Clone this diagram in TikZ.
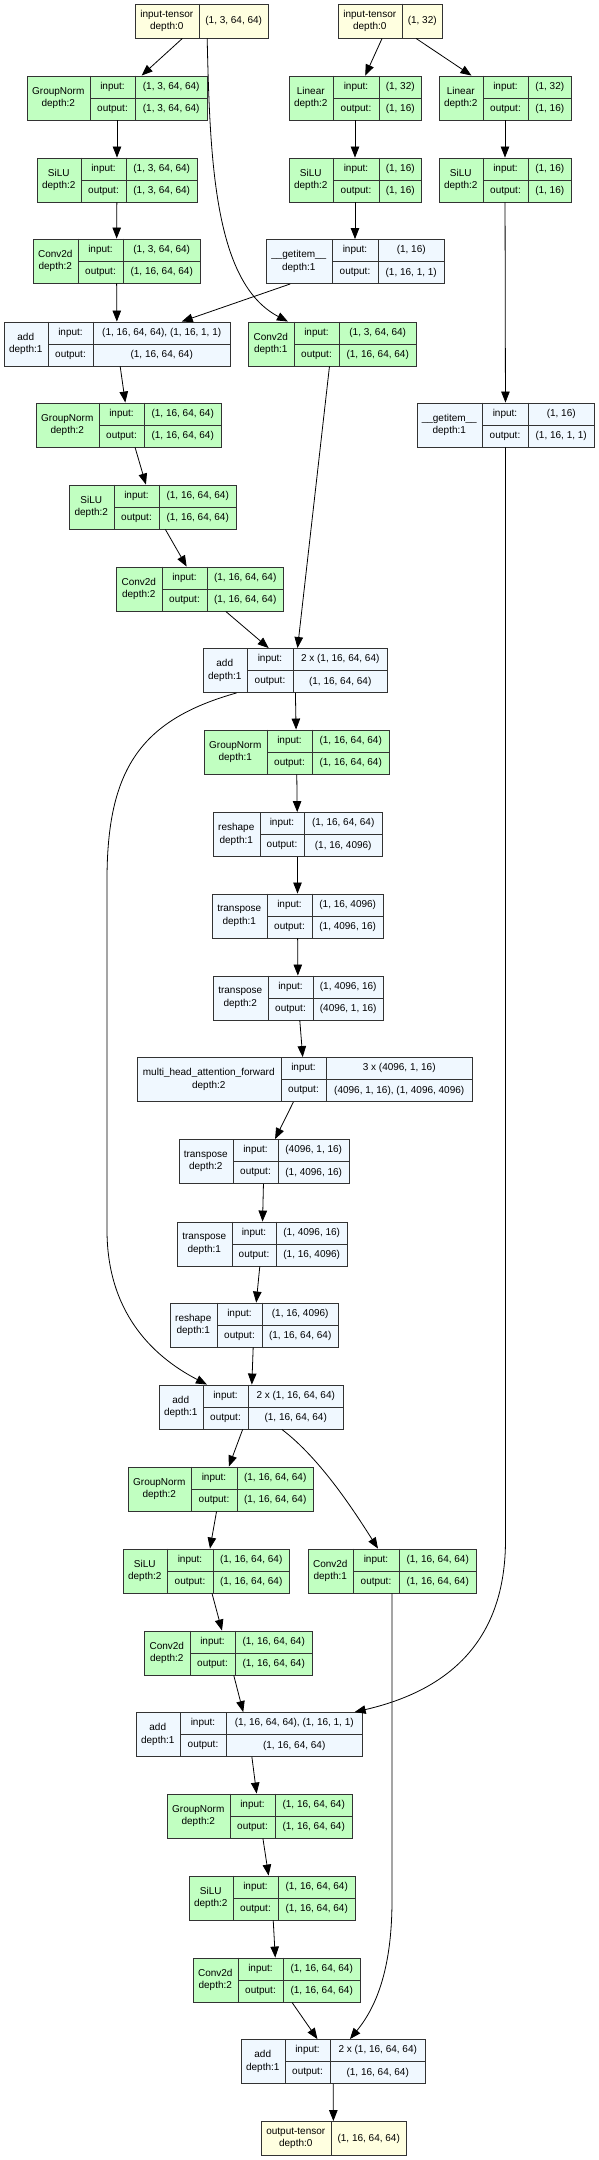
\documentclass[tikz,border=0pt]{standalone}
\usepackage{fontspec}
\setmainfont{Liberation Sans}
\usetikzlibrary{arrows.meta, calc}
\definecolor{layergreen}{HTML}{C1FFC1}
\definecolor{funcblue}{HTML}{F0F8FF}
\definecolor{tensoryellow}{HTML}{FFFFE0}
\definecolor{rulegray}{HTML}{333333}

\tikzset{
  netbox/.style={draw=rulegray, line width=0.9pt, inner sep=0pt, minimum height=44},
  module/.style={netbox, fill=layergreen},
  func/.style={netbox, fill=funcblue},
  tensor/.style={netbox, fill=tensoryellow, minimum height=34},
  cellrule/.style={draw=rulegray, line width=0.9pt},
  celltext/.style={font=\fontsize{10}{12.5}\selectfont, align=center, inner sep=0pt},
  edge/.style={-{Triangle[length=11pt, width=8.5pt]}, line width=0.8pt, black},
}

% cells of a layer: node, two split x, label, input, output
\newcommand{\netlayer}[6]{%
  \draw[cellrule] (#2,0 |- #1.north) -- (#2,0 |- #1.south)
                  (#3,0 |- #1.north) -- (#3,0 |- #1.south)
                  (#2,0 |- #1.center) -- (#1.east);
  \node[celltext] at ($(#1.west)!0.5!(#2,0 |- #1.west)$) {#4};
  \node[celltext] at ($(#2,0 |- #1.north)!0.5!(#3,0 |- #1.center)$) {input:};
  \node[celltext] at ($(#2,0 |- #1.south)!0.5!(#3,0 |- #1.center)$) {output:};
  \node[celltext] at ($(#3,0 |- #1.north)!0.5!(#1.east)$) {#5};
  \node[celltext] at ($(#3,0 |- #1.south)!0.5!(#1.east)$) {#6};
}
% cells of a tensor: node, split x, label, shape
\newcommand{\nettensor}[4]{%
  \draw[cellrule] (#2,0 |- #1.north) -- (#2,0 |- #1.south);
  \node[celltext] at ($(#1.west)!0.5!(#2,0 |- #1.west)$) {#3};
  \node[celltext] at ($(#2,0 |- #1.east)!0.5!(#1.east)$) {#4};
}

\begin{document}
\begin{tikzpicture}[x=1pt, y=-1pt]
  \useasboundingbox (0,0) rectangle (598,2160);

  % Inputs
  \node[tensor, minimum width=133] (in1) at (201.5,21) {};
  \nettensor{in1}{199}{input-tensor\\depth:0}{(1, 3, 64, 64)}
  \node[tensor, minimum width=104] (in2) at (390,21) {};
  \nettensor{in2}{402}{input-tensor\\depth:0}{(1, 32)}

  % First block
  \node[module, minimum width=180] (gn1) at (117,98) {};
  \netlayer{gn1}{90}{135}{GroupNorm\\depth:2}{(1, 3, 64, 64)}{(1, 3, 64, 64)}
  \node[module, minimum width=160] (silu1) at (117,180) {};
  \netlayer{silu1}{81}{126}{SiLU\\depth:2}{(1, 3, 64, 64)}{(1, 3, 64, 64)}
  \node[module, minimum width=167] (conv1) at (116.5,261) {};
  \netlayer{conv1}{78}{123}{Conv2d\\depth:2}{(1, 3, 64, 64)}{(1, 16, 64, 64)}

  % Embedding branches
  \node[module, minimum width=132] (lin1) at (355,98) {};
  \netlayer{lin1}{333}{379}{Linear\\depth:2}{(1, 32)}{(1, 16)}
  \node[module, minimum width=132] (lin2) at (505,98) {};
  \netlayer{lin2}{483}{528}{Linear\\depth:2}{(1, 32)}{(1, 16)}
  \node[module, minimum width=132] (siluA) at (355,180) {};
  \netlayer{siluA}{333}{379}{SiLU\\depth:2}{(1, 16)}{(1, 16)}
  \node[module, minimum width=132] (siluB) at (505,180) {};
  \netlayer{siluB}{483}{528}{SiLU\\depth:2}{(1, 16)}{(1, 16)}
  \node[func, minimum width=178] (getA) at (355,261.5) {};
  \netlayer{getA}{332}{378}{\_\_getitem\_\_\\depth:1}{(1, 16)}{(1, 16, 1, 1)}
  \node[func, minimum width=177] (getB) at (505.5,425) {};
  \netlayer{getB}{482}{528}{\_\_getitem\_\_\\depth:1}{(1, 16)}{(1, 16, 1, 1)}

  \node[func, minimum width=226] (add1) at (117,344) {};
  \netlayer{add1}{48}{93}{add\\depth:1}{(1, 16, 64, 64), (1, 16, 1, 1)}{(1, 16, 64, 64)}
  \node[module, minimum width=168] (convA) at (332,344) {};
  \netlayer{convA}{294}{339}{Conv2d\\depth:1}{(1, 3, 64, 64)}{(1, 16, 64, 64)}

  \node[module, minimum width=185] (gn2) at (128.5,425) {};
  \netlayer{gn2}{99}{144}{GroupNorm\\depth:2}{(1, 16, 64, 64)}{(1, 16, 64, 64)}
  \node[module, minimum width=167] (silu2) at (152.5,507) {};
  \netlayer{silu2}{114}{159}{SiLU\\depth:2}{(1, 16, 64, 64)}{(1, 16, 64, 64)}
  \node[module, minimum width=167] (conv2) at (199.5,589) {};
  \netlayer{conv2}{162}{207}{Conv2d\\depth:2}{(1, 16, 64, 64)}{(1, 16, 64, 64)}
  \node[func, minimum width=184] (add2) at (295,670.5) {};
  \netlayer{add2}{247}{293}{add\\depth:1}{2 x (1, 16, 64, 64)}{(1, 16, 64, 64)}

  % Attention
  \node[module, minimum width=185] (gn3) at (296.5,752) {};
  \netlayer{gn3}{267}{312}{GroupNorm\\depth:1}{(1, 16, 64, 64)}{(1, 16, 64, 64)}
  \node[func, minimum width=169] (resh1) at (297.5,834.5) {};
  \netlayer{resh1}{260}{304}{reshape\\depth:1}{(1, 16, 64, 64)}{(1, 16, 4096)}
  \node[func, minimum width=171] (tr1) at (297.5,916) {};
  \netlayer{tr1}{267}{312}{transpose\\depth:1}{(1, 16, 4096)}{(1, 4096, 16)}
  \node[func, minimum width=170] (tr2) at (298,998) {};
  \netlayer{tr2}{268}{313}{transpose\\depth:2}{(1, 4096, 16)}{(4096, 1, 16)}
  \node[func, minimum width=335] (mha) at (304.5,1079.5) {};
  \netlayer{mha}{281}{326}{multi\_head\_attention\_forward\\depth:2}{3 x (4096, 1, 16)}{(4096, 1, 16), (1, 4096, 4096)}
  \node[func, minimum width=170] (tr3) at (264,1161.5) {};
  \netlayer{tr3}{233}{278}{transpose\\depth:2}{(4096, 1, 16)}{(1, 4096, 16)}
  \node[func, minimum width=170] (tr4) at (262,1244) {};
  \netlayer{tr4}{232}{276}{transpose\\depth:1}{(1, 4096, 16)}{(1, 16, 4096)}
  \node[func, minimum width=168] (resh2) at (254,1325) {};
  \netlayer{resh2}{217}{262}{reshape\\depth:1}{(1, 16, 4096)}{(1, 16, 64, 64)}
  \node[func, minimum width=184] (add3) at (251,1407) {};
  \netlayer{add3}{203}{248}{add\\depth:1}{2 x (1, 16, 64, 64)}{(1, 16, 64, 64)}

  % Second block
  \node[module, minimum width=185] (gn4) at (220.5,1489) {};
  \netlayer{gn4}{191}{237}{GroupNorm\\depth:2}{(1, 16, 64, 64)}{(1, 16, 64, 64)}
  \node[module, minimum width=166] (silu4) at (206,1571) {};
  \netlayer{silu4}{167}{213}{SiLU\\depth:2}{(1, 16, 64, 64)}{(1, 16, 64, 64)}
  \node[module, minimum width=168] (convB) at (392,1571) {};
  \netlayer{convB}{353}{399}{Conv2d\\depth:1}{(1, 16, 64, 64)}{(1, 16, 64, 64)}
  \node[module, minimum width=168] (conv4) at (228,1653) {};
  \netlayer{conv4}{190}{235}{Conv2d\\depth:2}{(1, 16, 64, 64)}{(1, 16, 64, 64)}
  \node[func, minimum width=226] (add4) at (249,1734.5) {};
  \netlayer{add4}{180}{226}{add\\depth:1}{(1, 16, 64, 64), (1, 16, 1, 1)}{(1, 16, 64, 64)}
  \node[module, minimum width=185] (gn5) at (259.5,1816) {};
  \netlayer{gn5}{230}{275}{GroupNorm\\depth:2}{(1, 16, 64, 64)}{(1, 16, 64, 64)}
  \node[module, minimum width=166] (silu5) at (272,1898) {};
  \netlayer{silu5}{233}{278}{SiLU\\depth:2}{(1, 16, 64, 64)}{(1, 16, 64, 64)}
  \node[module, minimum width=167] (conv5) at (276.5,1980) {};
  \netlayer{conv5}{238}{283}{Conv2d\\depth:2}{(1, 16, 64, 64)}{(1, 16, 64, 64)}
  \node[func, minimum width=184] (add5) at (333,2061.5) {};
  \netlayer{add5}{285}{330}{add\\depth:1}{2 x (1, 16, 64, 64)}{(1, 16, 64, 64)}

  % Output
  \node[tensor, minimum width=145] (out) at (333.5,2138.5) {};
  \nettensor{out}{331}{output-tensor\\depth:0}{(1, 16, 64, 64)}

  % Edges
  \draw[edge] (in1) -- (gn1);
  \draw[edge] (in1.-72) .. controls (210,160) and (214,283) .. (convA.153);
  \draw[edge] (in2) -- (lin1);
  \draw[edge] (in2) -- (lin2);
  \draw[edge] (gn1) -- (silu1);
  \draw[edge] (silu1) -- (conv1);
  \draw[edge] (conv1) -- (add1);
  \draw[edge] (lin1) -- (siluA);
  \draw[edge] (siluA) -- (getA);
  \draw[edge] (getA) -- (add1);
  \draw[edge] (lin2) -- (siluB);
  \draw[edge] (siluB) -- (getB);
  \draw[edge] (add1) -- (gn2);
  \draw[edge] (gn2) -- (silu2);
  \draw[edge] (silu2) -- (conv2);
  \draw[edge] (conv2) -- (add2);
  \draw[edge] (convA) -- (add2);
  \draw[edge] (add2) -- (gn3);
  \draw[edge] (gn3) -- (resh1);
  \draw[edge] (resh1) -- (tr1);
  \draw[edge] (tr1) -- (tr2);
  \draw[edge] (tr2) -- (mha);
  \draw[edge] (mha) -- (tr3);
  \draw[edge] (tr3) -- (tr4);
  \draw[edge] (tr4) -- (resh2);
  \draw[edge] (resh2) -- (add3);
  \draw[edge] (add2.201) .. controls (140,720) and (107,770) .. (107,880)
    -- (107,1230) .. controls (107,1310) and (150,1355) .. (add3.153);
  \draw[edge] (add3) -- (gn4);
  \draw[edge] (gn4) -- (silu4);
  \draw[edge] (silu4) -- (conv4);
  \draw[edge] (conv4) -- (add4);
  \draw[edge] (add3.-36) .. controls (321,1459) and (356,1514) .. (convB.122);
  \draw[edge] (getB) -- (getB |- 0,1540) .. controls (505.5,1640) and (450,1690) .. (add4.12);
  \draw[edge] (add4) -- (gn5);
  \draw[edge] (gn5) -- (silu5);
  \draw[edge] (silu5) -- (conv5);
  \draw[edge] (conv5) -- (add5);
  \draw[edge] (convB) -- (convB |- 0,1900) .. controls (392,1965) and (378,2005) .. (add5.53);
  \draw[edge] (add5) -- (out);
\end{tikzpicture}
\end{document}
